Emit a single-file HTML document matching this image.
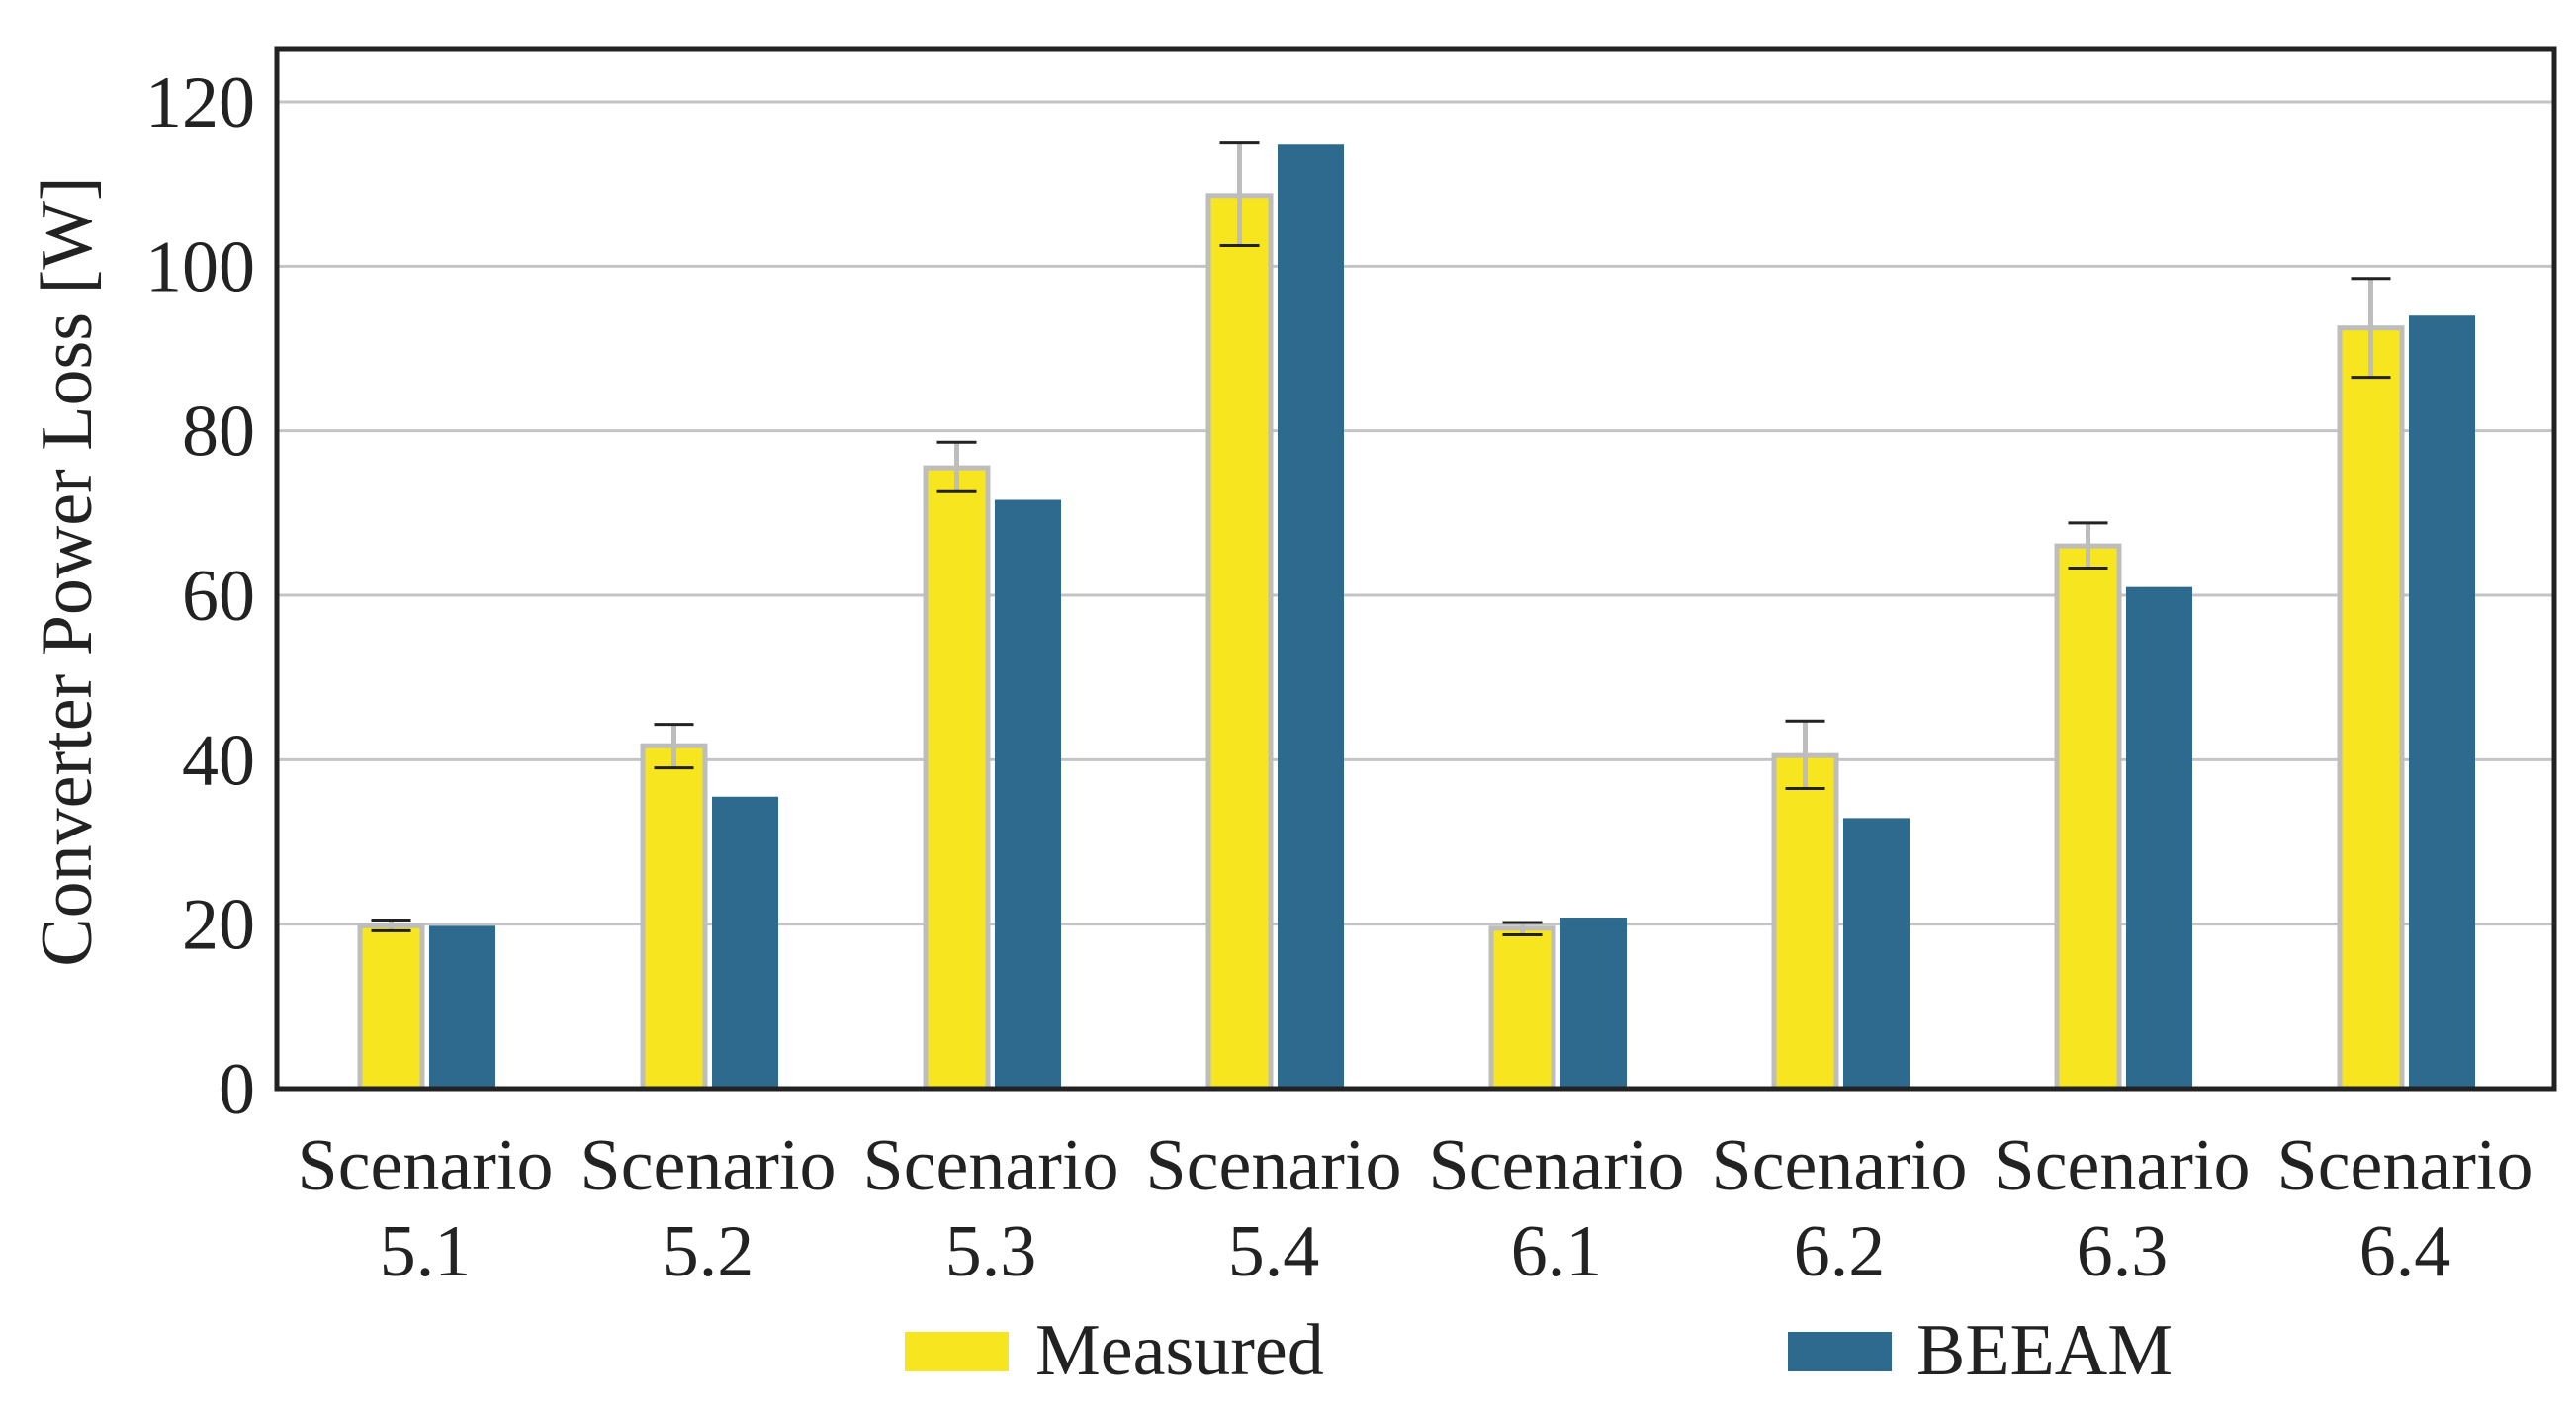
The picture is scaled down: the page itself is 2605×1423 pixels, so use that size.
<!DOCTYPE html>
<html><head><meta charset="utf-8"><style>
html,body{margin:0;padding:0;background:#fff;}
svg{display:block;font-family:"Liberation Serif",serif;}
</style></head><body>
<svg id="chart" width="2605" height="1423" viewBox="0 0 2605 1423" xmlns="http://www.w3.org/2000/svg">
<g id="grid"></g>
<g id="bars"></g>
<g id="errs"></g>
<rect x="280" y="50" width="2303" height="1051" fill="none" stroke="#222" stroke-width="5"/>
<g id="yticks"></g>
<g id="xticks"></g>
<text transform="translate(92,578) rotate(-90)" text-anchor="middle" font-size="74" fill="#222">Converter Power Loss [W]</text>
<g>
<g>
<rect x="915" y="1347" width="105" height="40" fill="#f7e61f"/>
<text x="1047" y="1390" font-size="74" fill="#222">Measured</text></g>
<g>
<rect x="1808" y="1347" width="105" height="40" fill="#2e6a8e"/>
<text x="1938" y="1390" font-size="74" fill="#222">BEEAM</text></g>
</g>
</svg>
<script>
const categories=["5.1","5.2","5.3","5.4","6.1","6.2","6.3","6.4"];
const measured=[19.8,41.7,75.5,108.6,19.5,40.5,66,92.5];
const errLow=[19.2,39,72.6,102.5,18.7,36.5,63.3,86.5];
const errHigh=[20.5,44.3,78.6,115,20.2,44.7,68.8,98.5];
const beeam=[19.8,35.5,71.6,114.8,20.8,32.9,61,94];
const yTicks=[0,20,40,60,80,100,120];
const NS="http://www.w3.org/2000/svg";
const y=v=>1101-v*(1101-103)/120;
const xc=i=>430+i*286;
function mk(tag,attrs,parent){const e=document.createElementNS(NS,tag);for(const k in attrs)e.setAttribute(k,attrs[k]);parent.appendChild(e);return e;}
const grid=document.getElementById('grid'),yt=document.getElementById('yticks'),xt=document.getElementById('xticks'),bars=document.getElementById('bars'),errs=document.getElementById('errs');
yTicks.forEach(t=>{
  if(t>0){const g=mk('line',{x1:280,x2:2583,y1:y(t),y2:y(t),stroke:'#c4c4c4','stroke-width':3},grid);
  
  }
  const l=mk('text',{x:258,y:y(t)+25,'text-anchor':'end','font-size':74,fill:'#222'},yt);
  l.textContent=t;
  
  
});
categories.forEach((c,i)=>{
  const cx=xc(i);
  const a=mk('rect',{x:cx-66,y:y(measured[i]),width:63,height:1101-y(measured[i]),fill:'#f7e61f',stroke:'#bdbdbd','stroke-width':5},bars);
  
  
  const b=mk('rect',{x:cx+4,y:y(beeam[i]),width:67,height:1101-y(beeam[i]),fill:'#2e6a8e'},bars);
  
  
  const ex=cx-34.5;
  const e=mk('g',{},errs);
  
  
  mk('line',{x1:ex,x2:ex,y1:y(errHigh[i]),y2:y(errLow[i]),stroke:'#bdbdbd','stroke-width':5},e);
  mk('line',{x1:ex-20,x2:ex+20,y1:y(errHigh[i]),y2:y(errHigh[i]),stroke:'#222','stroke-width':3},e);
  mk('line',{x1:ex-20,x2:ex+20,y1:y(errLow[i]),y2:y(errLow[i]),stroke:'#222','stroke-width':3},e);
  const t1=mk('text',{x:cx,y:1203,'text-anchor':'middle','font-size':74,fill:'#222'},xt);
  t1.textContent='Scenario';
  
  
  const t2=mk('text',{x:cx,y:1290,'text-anchor':'middle','font-size':74,fill:'#222'},xt);
  t2.textContent=c;
  
  
});
</script>
</body></html>
